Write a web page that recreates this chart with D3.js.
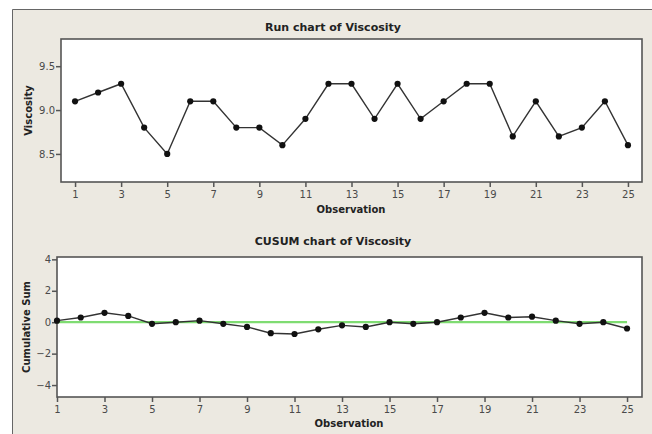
<!DOCTYPE html>
<html><head><meta charset="utf-8">
<script src="https://cdn.jsdelivr.net/npm/d3@7"></script>
<style>body{margin:0;background:#fff}svg{display:block}</style>
</head><body>
<svg id="c" width="652" height="434"></svg>
<script>
const observations = d3.range(1, 26);
const viscosity = [9.1,9.2,9.3,8.8,8.5,9.1,9.1,8.8,8.8,8.6,8.9,9.3,9.3,8.9,9.3,8.9,9.1,9.3,9.3,8.7,9.1,8.7,8.8,9.1,8.6];
const cusum = [0.1,0.3,0.6,0.4,-0.1,0,0.1,-0.1,-0.3,-0.7,-0.75,-0.45,-0.2,-0.3,0,-0.1,0,0.3,0.6,0.3,0.35,0.1,-0.1,0,-0.4];
const xTicks = [1,3,5,7,9,11,13,15,17,19,21,23,25];
const runYTicks = [8.5, 9.0, 9.5];
const cusumYTicks = [-4,-2,0,2,4];

const svg = d3.select("#c");
const font = "Verdana, 'DejaVu Sans', sans-serif";
svg.append("rect").attr("x",12).attr("y",9).attr("width",640).attr("height",425).attr("fill","#ece9e1");
svg.append("path").attr("d","M12.5,434V9.5H652").attr("fill","none").attr("stroke","#666").attr("stroke-width",1);

function panel(cfg){
  const {x0,x1,y0,y1,xDom,yDom,yTicks,yFmt,data,title,titleY,titleX,xlabX,ylabel,ylabelX,xlabY,ref} = cfg;
  const x = d3.scaleLinear().domain(xDom).range([x0,x1]);
  const y = d3.scaleLinear().domain(yDom).range([y1,y0]);
  svg.append("rect").attr("x",x0).attr("y",y0).attr("width",x1-x0).attr("height",y1-y0)
    .attr("fill","#fff").attr("stroke","#555").attr("stroke-width",1.6);
  const gx = svg.append("g").attr("transform",`translate(0,${y1})`)
    .call(d3.axisBottom(x).tickValues(xTicks).tickSize(5).tickPadding(4).tickFormat(d3.format("d")));
  const gy = svg.append("g").attr("transform",`translate(${x0},0)`)
    .call(d3.axisLeft(y).tickValues(yTicks).tickSize(5).tickPadding(1).tickFormat(yFmt));
  [gx,gy].forEach(g=>{
    g.select(".domain").remove();
    g.selectAll("line").attr("stroke","#555").attr("stroke-width",1.5);
    g.selectAll("text").attr("fill","#4a4a4a").attr("font-family",font).attr("font-size",10);
  });
  if(ref!==undefined){
    svg.append("line").attr("x1",x(1)).attr("x2",x(25)).attr("y1",y(ref)).attr("y2",y(ref))
      .attr("stroke","#7fdc72").attr("stroke-width",2.2);
  }
  const line = d3.line().x((d,i)=>x(observations[i])).y(d=>y(d));
  svg.append("path").datum(data).attr("d",line).attr("fill","none").attr("stroke","#333").attr("stroke-width",1.4);
  svg.append("g").selectAll("circle").data(data).join("circle")
    .attr("cx",(d,i)=>x(observations[i])).attr("cy",d=>y(d)).attr("r",3.1).attr("fill","#111");
  svg.append("text").attr("x",titleX).attr("y",titleY).attr("text-anchor","middle")
    .attr("font-family",font).attr("font-weight","bold").attr("font-size",11).attr("fill","#222").text(title);
  svg.append("text").attr("x",xlabX).attr("y",xlabY).attr("text-anchor","middle")
    .attr("font-family",font).attr("font-weight","bold").attr("font-size",10).attr("fill","#222").text("Observation");
  svg.append("text").attr("transform",`translate(${ylabelX},${(y0+y1)/2}) rotate(-90)`).attr("text-anchor","middle")
    .attr("font-family",font).attr("font-weight","bold").attr("font-size",10).attr("fill","#222").text(ylabel);
}

panel({x0:61,x1:642,y0:39,y1:182,xDom:[0.39,25.61],yDom:[8.18,9.81],yTicks:runYTicks,
  yFmt:d3.format(".1f"),data:viscosity,title:"Run chart of Viscosity",titleY:31,titleX:333,xlabX:351,
  ylabel:"Viscosity",ylabelX:32,xlabY:213});
panel({x0:57,x1:642,y0:257,y1:397,xDom:[1,25.63],yDom:[-4.76,4.15],yTicks:cusumYTicks,
  yFmt:d3.format("d"),data:cusum,title:"CUSUM chart of Viscosity",titleY:245,titleX:333,xlabX:349,
  ylabel:"Cumulative Sum",ylabelX:30,xlabY:427,ref:0});
</script>
</body></html>
